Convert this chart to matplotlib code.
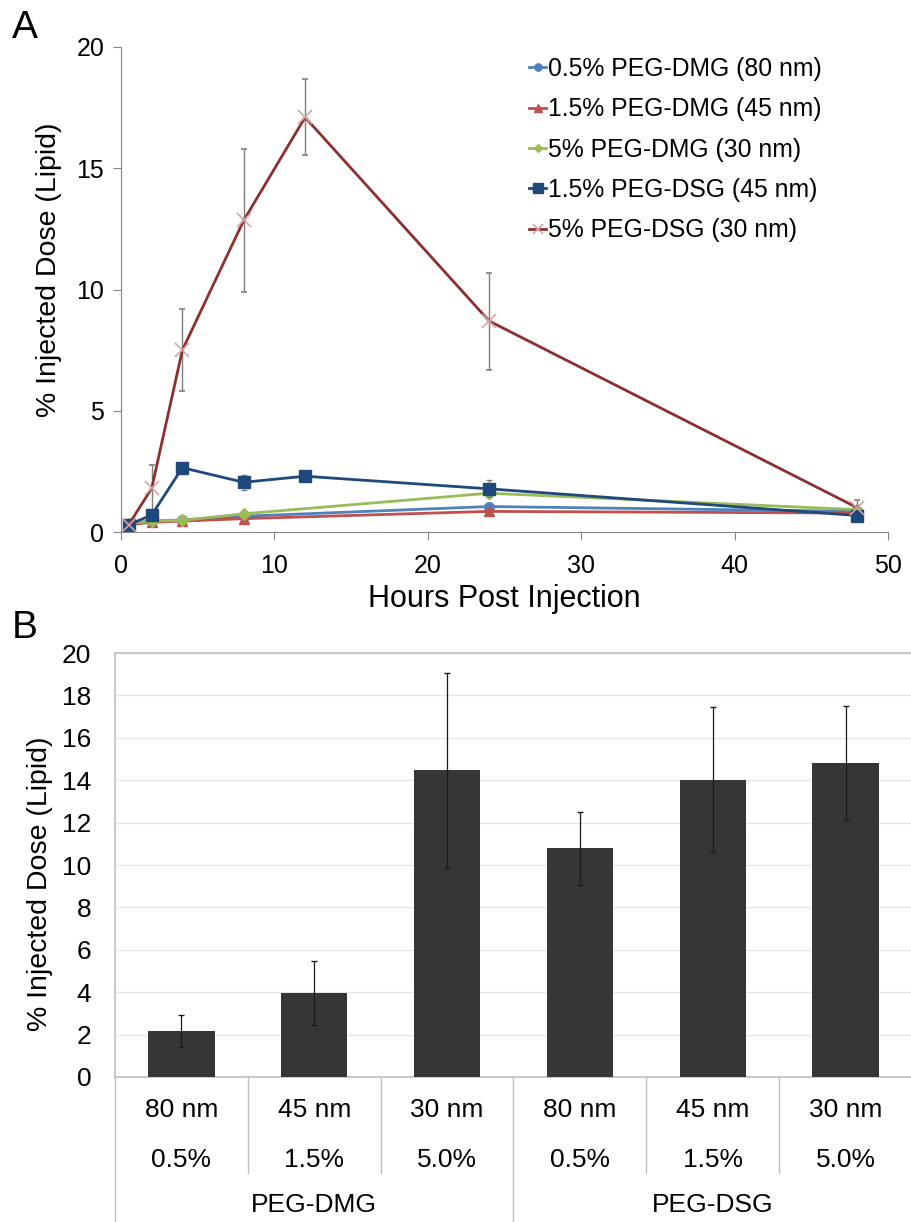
import matplotlib
matplotlib.use("Agg")
import matplotlib.pyplot as plt
from matplotlib import font_manager

names = {f.name for f in font_manager.fontManager.ttflist}
narrow = "Liberation Sans Narrow" if "Liberation Sans Narrow" in names else "Liberation Sans"
plt.rcParams["font.family"] = ["Liberation Sans", "DejaVu Sans"]

# ---- panel A data ----
t_dmg = [0.5, 2, 4, 8, 24, 48]
t_dsg = [0.5, 2, 4, 8, 12, 24, 48]
dmg05 = [0.35, 0.45, 0.5, 0.65, 1.05, 0.85]
dmg15 = [0.3, 0.4, 0.45, 0.55, 0.85, 0.78]
dmg50 = [0.35, 0.45, 0.48, 0.75, 1.6, 0.92]
dsg15 = [0.3, 0.7, 2.65, 2.05, 2.3, 1.78, 0.68]
dsg15_err = [0.05, 0.1, 0.15, 0.3, 0.1, 0.35, 0.1]
dsg50 = [0.3, 1.8, 7.5, 12.85, 17.1, 8.7, 1.0]
dsg50_err = [0.05, 0.95, 1.7, 2.95, 1.57, 2.0, 0.3]

# ---- panel B data ----
sizes = ["80 nm", "45 nm", "30 nm", "80 nm", "45 nm", "30 nm"]
pcts = ["0.5%", "1.5%", "5.0%", "0.5%", "1.5%", "5.0%"]
groups = ["PEG-DMG", "PEG-DSG"]
bar_vals = [2.17, 3.97, 14.47, 10.78, 14.02, 14.82]
bar_err = [0.75, 1.52, 4.6, 1.72, 3.43, 2.7]

fig = plt.figure(figsize=(9.12, 12.22), dpi=100)
spine_c = "#868686"

# ================= A =================
ax = fig.add_axes([121 / 912, 1 - 532 / 1222, 767 / 912, 485 / 1222])
ax.plot(t_dmg, dmg05, color="#4F81BD", lw=2, marker="o", ms=7, label="0.5% PEG-DMG (80 nm)")
ax.plot(t_dmg, dmg15, color="#C0504D", lw=2, marker="^", ms=7, label="1.5% PEG-DMG (45 nm)")
ax.plot(t_dmg, dmg50, color="#9BBB59", lw=2, marker="D", ms=6, label="5% PEG-DMG (30 nm)")
ax.errorbar(t_dsg, dsg15, yerr=dsg15_err, color="#1F497D", lw=2, marker="s", ms=9,
            ecolor="#7F7F7F", elinewidth=1, capsize=2, label="1.5% PEG-DSG (45 nm)")
ax.errorbar(t_dsg, dsg50, yerr=dsg50_err, color="#8E2F2F", lw=2, marker="x", ms=10,
            mec="#D4A5A5", mew=1.2, ecolor="#7F7F7F", elinewidth=1, capsize=2,
            label="5% PEG-DSG (30 nm)")
ax.set_xlim(0, 50)
ax.set_ylim(0, 20)
ax.set_xticks(range(0, 51, 10))
ax.set_yticks(range(0, 21, 5))
for s in ["top", "right"]:
    ax.spines[s].set_visible(False)
for s in ["left", "bottom"]:
    ax.spines[s].set_color(spine_c)
ax.tick_params(colors=spine_c, labelcolor="black", labelsize=18, length=6, pad=6)
ax.tick_params(axis="x", pad=10)
ax.set_xlabel("Hours Post Injection", fontsize=22, labelpad=4)
ax.set_ylabel("% Injected Dose (Lipid)", fontsize=20.5)
ax.yaxis.set_label_coords(-0.077, 0.54)
handles, labels = ax.get_legend_handles_labels()
h2 = [h[0] if isinstance(h, matplotlib.container.ErrorbarContainer) else h for h in handles]
ax.legend(h2, labels, loc="upper left", bbox_to_anchor=(0.503, 1.025), frameon=False,
          fontsize=17.8, handlelength=0.7, handletextpad=0.05, labelspacing=0.66,
          markerscale=0.75)
fig.text(12 / 912, 1 - 28 / 1222, "A", fontsize=28, family=[narrow, "DejaVu Sans"],
         va="center", ha="left")

# ================= B =================
bx = fig.add_axes([115 / 912, 1 - 1077 / 1222, 797 / 912, 424 / 1222])
xs = list(range(len(bar_vals)))
bx.bar(xs, bar_vals, width=0.5, color="#363636", zorder=3)
bx.errorbar(xs, bar_vals, yerr=bar_err, fmt="none", ecolor="#1A1A1A", elinewidth=0.9,
            capsize=2, zorder=4)
bx.set_xlim(-0.5, len(bar_vals) - 0.5)
bx.set_ylim(0, 20)
bx.set_yticks(range(0, 21, 2))
bx.grid(axis="y", color="#E6E6E6", lw=1, zorder=0)
bx.set_xticks([])
bx.spines["right"].set_visible(False)
for s in ["left", "top", "bottom"]:
    bx.spines[s].set_color("#BFBFBF")
    bx.spines[s].set_linewidth(1.2)
bx.tick_params(axis="y", length=0, labelsize=19, pad=17)
bx.set_ylabel("% Injected Dose (Lipid)", fontsize=20.5)
bx.yaxis.set_label_coords(-0.078, 0.455)

tr = bx.get_xaxis_transform()
for i, (sz, pc) in enumerate(zip(sizes, pcts)):
    bx.text(i, -0.078, sz, transform=tr, ha="center", va="center", fontsize=19,
            family=[narrow, "DejaVu Sans"])
    bx.text(i, -0.196, pc, transform=tr, ha="center", va="center", fontsize=19,
            family=[narrow, "DejaVu Sans"])
for g, gname in enumerate(groups):
    bx.text(g * 3 + 1, -0.302, gname, transform=tr, ha="center", va="center", fontsize=19,
            family=[narrow, "DejaVu Sans"])
# category separators
for i in range(len(bar_vals) + 1):
    xb = i - 0.5
    y_end = -0.345 if i % 3 == 0 else -0.226
    bx.plot([xb, xb], [0, y_end], transform=tr, color="#BFBFBF", lw=1, clip_on=False)
fig.text(12 / 912, 1 - 628 / 1222, "B", fontsize=28, family=[narrow, "DejaVu Sans"],
         va="center", ha="left")

fig.savefig("out.png", dpi=100)
